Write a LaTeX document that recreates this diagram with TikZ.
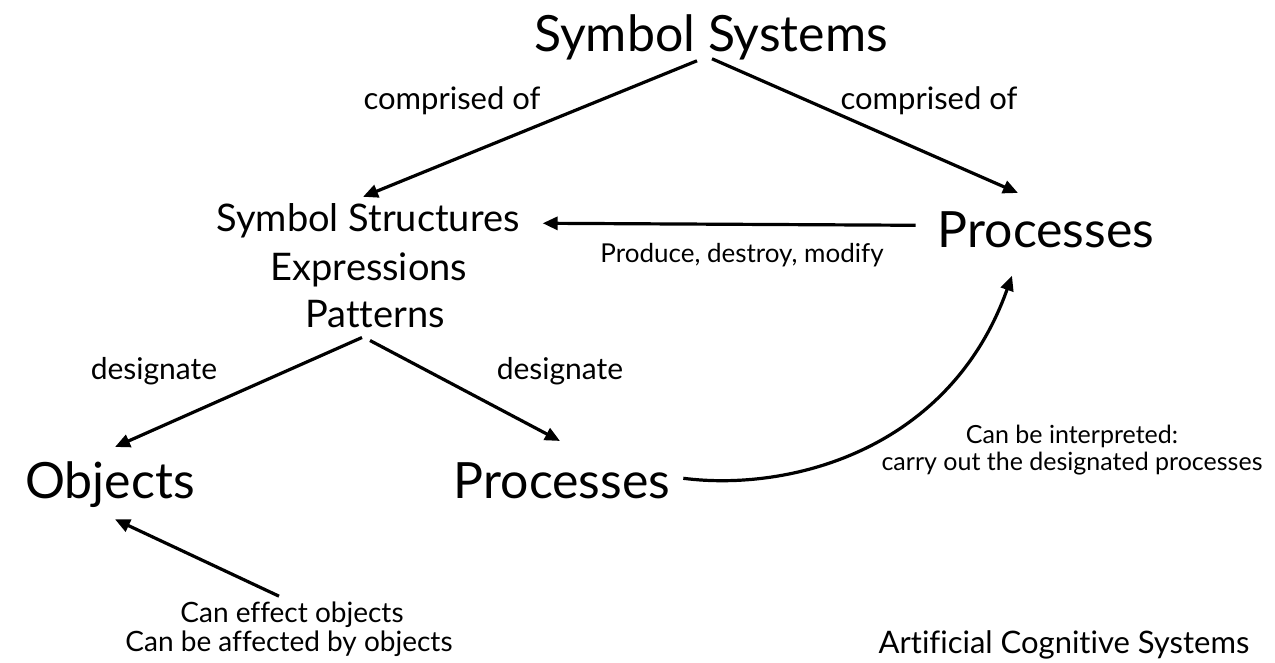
\documentclass[tikz,border=0pt]{standalone}
\usepackage{fontspec}
\setmainfont{Lato}[Ligatures=NoCommon]
\usetikzlibrary{arrows.meta,calc}

\tikzset{
  lbl/.style={inner sep=0pt, anchor=base, text=black},
  big/.style={lbl, font=\fontsize{50}{56}\selectfont},
  mid/.style={lbl, font=\fontsize{38}{44}\selectfont},
  rel/.style={lbl, font=\fontsize{31}{36}\selectfont},
  verb/.style={lbl, font=\fontsize{30}{34}\selectfont},
  small/.style={lbl, font=\fontsize{26}{30}\selectfont},
  note/.style={lbl, font=\fontsize{28}{32}\selectfont},
  tiny/.style={lbl, font=\fontsize{25}{29}\selectfont},
  arr/.style={line width=3.2pt, -{Triangle[length=15pt,width=13pt]}},
}

\begin{document}
\begin{tikzpicture}[x=1pt, y=-1pt]
\useasboundingbox (0,0) rectangle (1275,663);

% concepts
\node[big]   (ss)  at (711,52)  {Symbol Systems};
\node[mid]   (st1) at (368,232) {Symbol Structures};
\node[mid]   (st2) at (369,280) {Expressions};
\node[mid]   (st3) at (375,327) {Patterns};
\node[big]   (pr)  at (1046,248) {Processes};
\node[big]   (ob)  at (110,498) {Objects};
\node[big]   (pl)  at (562,498) {Processes};

% relation labels
\node[rel]   (cl)  at (452,110) {comprised of};
\node[rel]   (cr)  at (929,110) {comprised of};
\node[small] (pdm) at (742,263) {Produce, destroy, modify};
\node[verb]  (dl)  at (154,379) {designate};
\node[verb]  (dr)  at (560,379) {designate};
\node[tiny]  (ci1) at (1072,443) {Can be interpreted:};
\node[tiny]  (ci2) at (1072,470) {carry out the designated processes};
\node[note]  (ce1) at (292,622) {Can effect objects};
\node[note]  (ce2) at (289,651) {Can be affected by objects};
\node[rel]   (acs) at (1064,653) {Artificial Cognitive Systems};

% connectors
\draw[arr] ($(ss.south)+(-14,0)$) -- ($(st1.north)+(-5,-7)$);
\draw[arr] ($(ss.south)+(1,-2)$) -- ($(pr.north)+(-28,-19)$);
\draw[arr] ($(pr.west)+(-22,-5)$) -- ($(st1.east)+(23,2)$);
\draw[arr] ($(st3.south)+(-13,10)$) -- ($(ob.north)+(5,-14)$);
\draw[arr] ($(st3.south)+(-5,13)$) -- ($(pl.north)+(-2,-21)$);
\draw[arr] ($(pl.east)+(13,-2)$) .. controls (790,492) and (950,450) .. ($(pr.south)+(-34,27)$);
\draw[arr] ($(ce1.north)+(-13,-5)$) -- ($(ob.south)+(5,12)$);
\end{tikzpicture}
\end{document}
